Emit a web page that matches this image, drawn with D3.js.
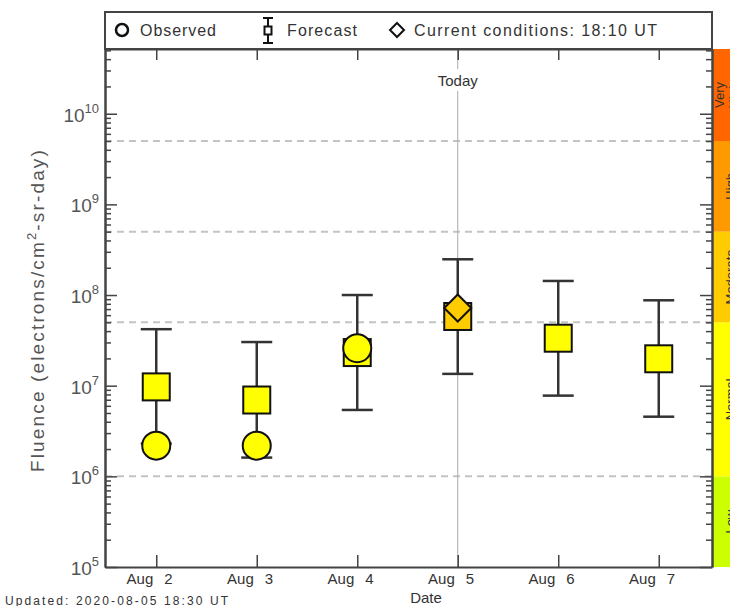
<!DOCTYPE html>
<html><head><meta charset="utf-8">
<script src="https://cdn.jsdelivr.net/npm/d3@7"></script>
<style>
body{margin:0;background:#fff}
svg{display:block}
text{font-family:"Liberation Sans",Arial,Helvetica,sans-serif;fill:#333}
</style>
</head><body>
<svg id="c" width="730" height="606"></svg>
<script>
// ---------- data ----------
const days = [2, 3, 4, 5, 6, 7];
const dayMonth = ["Aug", "Aug", "Aug", "Aug", "Aug", "Aug"];
const dayNumbers = ["2", "3", "4", "5", "6", "7"];
const forecast = [9.7e6, 6.95e6, 2.32e7, 5.8e7, 3.34e7, 1.98e7];
const forecastHigh = [4.2e7, 3.03e7, 1.0e8, 2.48e8, 1.43e8, 8.75e7];
const forecastLow = [2.3e6, 1.61e6, 5.4e6, 1.35e7, 7.77e6, 4.55e6];
const observedDays = [2, 3, 4];
const observed = [2.18e6, 2.18e6, 2.59e7];
const currentDays = [5];
const current = [7.2e7];
const todayDay = [5];
const bandEdges = [1e6, 5e7, 5e8, 5e9];
const bandColors = ["#CCFF00", "#FFFF00", "#FFCC00", "#FF9900", "#FF6600"];
const bandLabels = [["Low"], ["Normal"], ["Moderate"], ["High"], ["Very", "High"]];
const yTickExponents = [5, 6, 7, 8, 9, 10];
const gridValues = [1e6, 5e7, 5e8, 5e9];
const legendLabels = ["Observed", "Forecast", "Current conditions: 18:10 UT"];

// ---------- layout ----------
const L = 105, R = 712, T = 49, B = 567;
const svg = d3.select("#c");
const x = d3.scaleLinear().domain([1.49, 7.53]).range([L, R]);
const yTop = Math.pow(10, 10.714);
const y = d3.scaleLog().domain([1e5, yTop]).range([B, T]);
const bandColor = d3.scaleThreshold().domain(bandEdges).range(bandColors);

// colour bands on the right
const bandLo = [1e5].concat(bandEdges);
const bandHi = bandEdges.concat([yTop]);
const bands = bandColors.map((c, i) => ({c, lo: bandLo[i], hi: bandHi[i], lab: bandLabels[i]}));
svg.append("g").selectAll("rect").data(bands).join("rect")
  .attr("x", R).attr("width", 40)
  .attr("y", d => y(d.hi)).attr("height", d => y(d.lo) - y(d.hi))
  .attr("fill", d => d.c);
bands.forEach(d => {
  const cy = (y(d.lo) + y(d.hi)) / 2;
  const n = d.lab.length;
  d.lab.forEach((s, j) => {
    const bx = n === 1 ? 735 : 724 + j * 14;
    svg.append("text").attr("transform", `translate(${bx},${cy}) rotate(-90)`)
      .attr("text-anchor", "middle").attr("font-size", 13).style("fill", "#333").text(s);
  });
});

// dashed grid
svg.append("g").selectAll("line").data(gridValues).join("line")
  .attr("x1", L).attr("x2", R).attr("y1", d => y(d)).attr("y2", d => y(d))
  .attr("stroke", "#c4c4c4").attr("stroke-width", 2).attr("stroke-dasharray", "7,5");

// today line
const tx = x(todayDay[0]);
svg.append("line").attr("x1", tx).attr("x2", tx).attr("y1", T).attr("y2", B)
  .attr("stroke", "#aaa").attr("stroke-width", 1);
svg.append("rect").attr("x", tx - 26).attr("y", 69).attr("width", 52).attr("height", 22).attr("fill", "#fff");
svg.append("text").attr("x", tx).attr("y", 86).attr("text-anchor", "middle")
  .attr("font-size", 15).text("Today");

// axes
const minor = [];
for (let e = 5; e <= 10; e++) for (let m = 2; m <= 9; m++) { const v = m * Math.pow(10, e); if (v < yTop) minor.push(v); }
const major = yTickExponents.map(e => Math.pow(10, e));
function styleAxis(g) {
  g.select(".domain").attr("stroke", "#444").attr("stroke-width", 2);
  g.selectAll(".tick line").attr("stroke", "#444").attr("stroke-width", 1.5);
  g.selectAll(".tick text").remove();
}
svg.append("g").attr("transform", `translate(${L},0)`)
  .call(d3.axisRight(y).tickValues(minor).tickSize(6).tickSizeOuter(0).tickFormat(""))
  .call(styleAxis);
svg.append("g").attr("transform", `translate(${L},0)`)
  .call(d3.axisRight(y).tickValues(major).tickSize(12).tickSizeOuter(0).tickFormat(""))
  .call(styleAxis);
svg.append("g").attr("transform", `translate(${R},0)`)
  .call(d3.axisLeft(y).tickValues(minor).tickSize(6).tickSizeOuter(0).tickFormat(""))
  .call(styleAxis);
svg.append("g").attr("transform", `translate(${R},0)`)
  .call(d3.axisLeft(y).tickValues(major).tickSize(12).tickSizeOuter(0).tickFormat(""))
  .call(styleAxis);
svg.append("g").attr("transform", `translate(0,${B})`)
  .call(d3.axisTop(x).tickValues(days).tickSize(12).tickSizeOuter(0).tickFormat(""))
  .call(styleAxis);
svg.append("g").attr("transform", `translate(0,${T})`)
  .call(d3.axisBottom(x).tickValues(days).tickSize(11).tickSizeOuter(0).tickFormat(""))
  .call(styleAxis);

// y tick labels 10^n
yTickExponents.forEach(e => {
  const yy = y(Math.pow(10, e));
  const t = svg.append("text").attr("x", 99).attr("y", yy + 8).attr("text-anchor", "end")
    .attr("font-size", 19).style("fill", "#555");
  t.append("tspan").text("10");
  t.append("tspan").attr("font-size", 13).attr("dy", -9).text(String(e));
});

// x tick labels
days.forEach((d, i) => {
  svg.append("text").attr("x", x(d) - 3).attr("y", 584).attr("text-anchor", "end")
    .attr("font-size", 15).text(dayMonth[i]);
  svg.append("text").attr("x", x(d) + 8).attr("y", 584).attr("text-anchor", "start")
    .attr("font-size", 15).text(dayNumbers[i]);
});

// axis titles
const yl = svg.append("text").attr("transform", `translate(44,${(T + B) / 2 + 2}) rotate(-90)`)
  .attr("text-anchor", "middle").attr("font-size", 19).style("fill", "#555");
yl.append("tspan").text("Fluence (electrons/cm");
yl.append("tspan").attr("font-size", 13).attr("dy", -8).text("2");
yl.append("tspan").attr("dy", 8).text("-sr-day)");
{
  const len = yl.node().getComputedTextLength();
  const nChars = "Fluence (electrons/cm2-sr-day)".length;
  yl.style("letter-spacing", ((324 - len) / nChars) + "px");
}
svg.append("text").attr("x", 426).attr("y", 603).attr("text-anchor", "middle")
  .attr("font-size", 15).text("Date");
svg.append("text").attr("x", 5).attr("y", 605).attr("font-size", 12)
  .attr("textLength", 223).text("Updated: 2020-08-05 18:30 UT");

// forecast error bars
const fc = days.map((d, i) => ({d, v: forecast[i], hi: forecastHigh[i], lo: forecastLow[i]}));
const eb = svg.append("g").attr("stroke", "#333").attr("stroke-width", 2.5);
eb.selectAll("line.v").data(fc).join("line").attr("class", "v")
  .attr("x1", d => x(d.d)).attr("x2", d => x(d.d)).attr("y1", d => y(d.hi)).attr("y2", d => y(d.lo));
eb.selectAll("line.h").data(fc).join("line").attr("class", "h")
  .attr("x1", d => x(d.d) - 15.5).attr("x2", d => x(d.d) + 15.5).attr("y1", d => y(d.hi)).attr("y2", d => y(d.hi));
eb.selectAll("line.l").data(fc).join("line").attr("class", "l")
  .attr("x1", d => x(d.d) - 15.5).attr("x2", d => x(d.d) + 15.5).attr("y1", d => y(d.lo)).attr("y2", d => y(d.lo));

// forecast boxes
svg.append("g").selectAll("rect").data(fc).join("rect")
  .attr("x", d => x(d.d) - 13.5).attr("y", d => y(d.v) - 13.5).attr("width", 27).attr("height", 27)
  .attr("fill", d => bandColor(d.v)).attr("stroke", "#111").attr("stroke-width", 2);

// observed circles
const ob = observedDays.map((d, i) => ({d, v: observed[i]}));
svg.append("g").selectAll("circle").data(ob).join("circle")
  .attr("cx", d => x(d.d)).attr("cy", d => y(d.v)).attr("r", 14)
  .attr("fill", d => bandColor(d.v)).attr("stroke", "#111").attr("stroke-width", 2);

// current diamond
const cur = currentDays.map((d, i) => ({d, v: current[i]}));
svg.append("g").selectAll("path").data(cur).join("path")
  .attr("d", d => { const cx = x(d.d), cy = y(d.v), s = 13.5; return `M${cx},${cy - s}L${cx + s},${cy}L${cx},${cy + s}L${cx - s},${cy}Z`; })
  .attr("fill", d => bandColor(d.v)).attr("stroke", "#111").attr("stroke-width", 2);

// frame lines on top
svg.append("rect").attr("x", L).attr("y", 12).attr("width", R - L).attr("height", T - 12)
  .attr("fill", "none").attr("stroke", "#444").attr("stroke-width", 2);

// legend
const lg = svg.append("g");
lg.append("circle").attr("cx", 122).attr("cy", 30).attr("r", 6).attr("fill", "#fff").attr("stroke", "#111").attr("stroke-width", 2.5);
lg.append("text").attr("x", 140).attr("y", 36).attr("font-size", 16).attr("textLength", 76).text(legendLabels[0]);
lg.append("line").attr("x1", 268).attr("x2", 268).attr("y1", 18).attr("y2", 43).attr("stroke", "#111").attr("stroke-width", 2);
lg.append("line").attr("x1", 263).attr("x2", 273).attr("y1", 18).attr("y2", 18).attr("stroke", "#111").attr("stroke-width", 2);
lg.append("line").attr("x1", 263).attr("x2", 273).attr("y1", 43).attr("y2", 43).attr("stroke", "#111").attr("stroke-width", 2);
lg.append("rect").attr("x", 264.5).attr("y", 26.5).attr("width", 7).attr("height", 8).attr("fill", "#fff").attr("stroke", "#111").attr("stroke-width", 2);
lg.append("text").attr("x", 287).attr("y", 36).attr("font-size", 16).attr("textLength", 70).text(legendLabels[1]);
lg.append("path").attr("d", "M397,23L404,30L397,37L390,30Z").attr("fill", "#fff").attr("stroke", "#111").attr("stroke-width", 2);
lg.append("text").attr("x", 414).attr("y", 36).attr("font-size", 16).attr("textLength", 243).text(legendLabels[2]);
</script>
</body></html>
